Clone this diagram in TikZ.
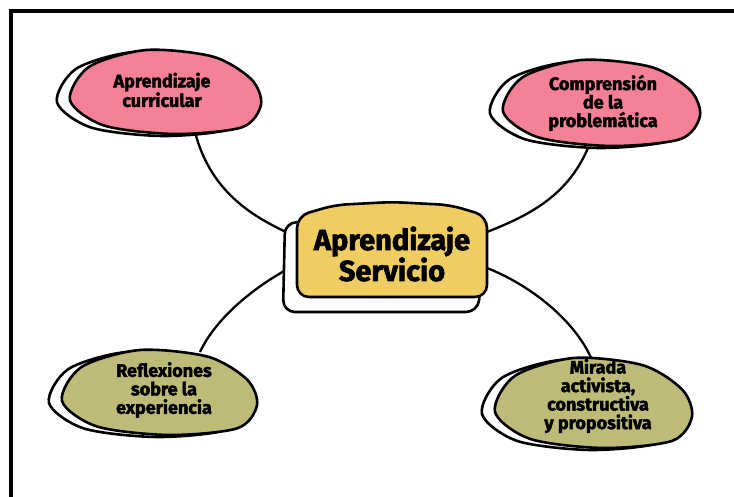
\documentclass[tikz,border=0pt]{standalone}
\usepackage{fontspec}
\setmainfont{Fira Sans}[BoldFeatures={FakeBold=2.2}]
\definecolor{pinkfill}{HTML}{F58197}
\definecolor{yellowfill}{HTML}{F0CD62}
\definecolor{olivefill}{HTML}{BDBB77}
\newcommand\myblob[5]{%
  \begin{scope}[shift={(#1-13,#2+2)},x=#3pt,y=-#4pt]
    \draw[blobline,fill=white] plot[smooth cycle] coordinates
      {(0,0.6) (0.1,0.2) (0.4,0) (0.75,0.08) (0.95,0.35) (1,0.65) (0.9,0.92) (0.55,1) (0.18,0.9)};
  \end{scope}
  \begin{scope}[shift={(#1,#2)},x=#3pt,y=-#4pt]
    \draw[blobline,fill=#5] plot[smooth cycle] coordinates
      {(0,0.6) (0.1,0.2) (0.4,0) (0.75,0.08) (0.95,0.35) (1,0.65) (0.9,0.92) (0.55,1) (0.18,0.9)};
  \end{scope}}
\begin{document}
\begin{tikzpicture}[x=1pt,y=-1pt,
  blobline/.style={line width=2.6pt,black,line join=round},
  conn/.style={line width=2.3pt,black},
  blobtext/.style={align=center,font=\fontsize{18}{18.5}\selectfont\bfseries,inner sep=0pt},
  centertext/.style={align=center,font=\fontsize{29}{25}\selectfont\bfseries,inner sep=0pt}]
\useasboundingbox (0,0) rectangle (734,497);
\fill[white] (0,0) rectangle (734,497);
% frame
\draw[line width=4pt] (11,497) -- (11,11.5) -- (734,11.5);
% connector end points
\coordinate (tlb) at (195,132);
\coordinate (trb) at (590,143);
\coordinate (blb) at (200,352);
\coordinate (brb) at (592,360);
\coordinate (cl1) at (286,232);
\coordinate (cr1) at (487,232);
\coordinate (cl2) at (286,270);
\coordinate (cr2) at (487,268);
% connectors
\draw[conn] (tlb) .. controls (210,190) and (250,215) .. (cl1);
\draw[conn] (trb) .. controls (570,195) and (530,215) .. (cr1);
\draw[conn] (cl2) .. controls (250,290) and (215,320) .. (blb);
\draw[conn] (cr2) .. controls (530,285) and (575,320) .. (brb);
% blobs
\myblob{70}{50}{191}{84}{pinkfill}
\myblob{503}{60}{197}{86}{pinkfill}
\myblob{62}{350}{195}{85}{olivefill}
\myblob{495}{358}{197}{90}{olivefill}
% center box
\draw[blobline,fill=white,rounded corners=12pt] (285,222) -- (283,312) -- (478,312) -- (481,280) -- (470,225) -- cycle;
\draw[blobline,fill=yellowfill,rounded corners=12pt] (297,297) -- (297,216) -- (335,205) -- (392,202) -- (450,205) -- (487,216) -- (487,297) -- cycle;
% texts
\node[centertext] (c) at (392,254) {Aprendizaje\\Servicio};
\node[blobtext] (tl) at (162,90) {Aprendizaje\\curricular};
\node[blobtext] (tr) at (603,103) {Comprensión\\de la\\problemática};
\node[blobtext] (bl) at (164,390) {Reflexiones\\sobre la\\experiencia};
\node[blobtext] (br) at (598,396) {Mirada\\activista,\\constructiva\\y propositiva};
\end{tikzpicture}
\end{document}
